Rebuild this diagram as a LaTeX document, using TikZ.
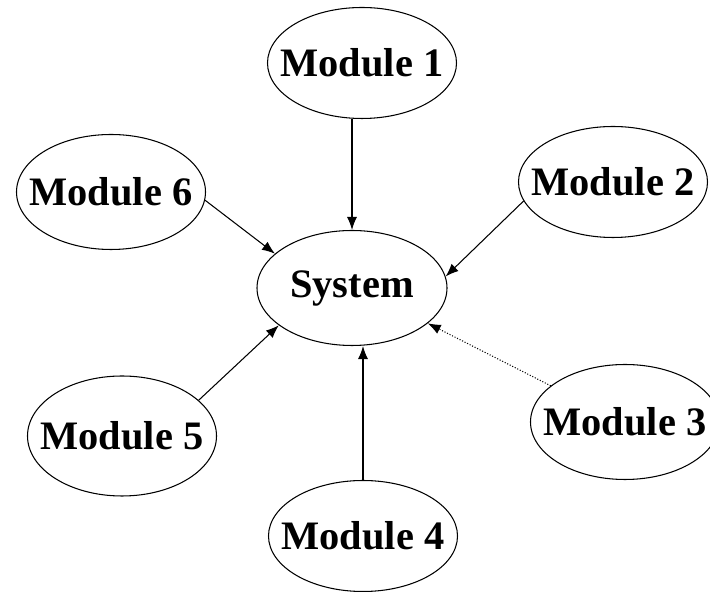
\documentclass[tikz,border=0pt]{standalone}
\usepackage{fontspec}
\setmainfont{Liberation Serif}
\usepackage{tikz}
\usetikzlibrary{shapes.geometric, arrows.meta, positioning, calc}
\tikzstyle{arrow} = [line width=0.6pt,->,>={Latex[length=2.6mm,width=2mm]}]
\tikzstyle{module} = [ellipse, draw=black, line width=0.6pt, inner ysep=0pt, inner xsep=-0.4cm, minimum width=3.78cm, minimum height=2.22cm, font=\fontsize{23}{27}\selectfont\bfseries]

\begin{document}
\begin{tikzpicture}
    \useasboundingbox (0,0) rectangle (14.2,11.84);
    % Centre
    \node[module, minimum width=3.8cm, minimum height=2.3cm] (system) at (7.04, 6.08) {System};

    % Modules
    \node[module] (mod1) at (7.24, 10.58) {Module 1};
    \node[module] (mod2) at (12.26, 8.20) {Module 2};
    \node[module, minimum height=2.3cm] (mod3) at (12.50, 3.40) {Module 3};
    \node[module] (mod4) at (7.26, 1.12) {Module 4};
    \node[module, minimum height=2.4cm] (mod5) at (2.44, 3.12) {Module 5};
    \node[module, minimum height=2.3cm] (mod6) at (2.22, 8.00) {Module 6};

    % Arrows
    \draw[arrow] (mod1.south -| system.north) -- (system.north);
    \draw[arrow] (mod2.192) -- (system.7);
    \draw[arrow, densely dotted] (mod3.154) -- (system.335);
    \draw[arrow] (mod4.north) -- (mod4.north |- system.south);
    \draw[arrow] (mod5.25) -- (system.207);
    \draw[arrow] (mod6.355) -- (system.156);
\end{tikzpicture}
\end{document}
